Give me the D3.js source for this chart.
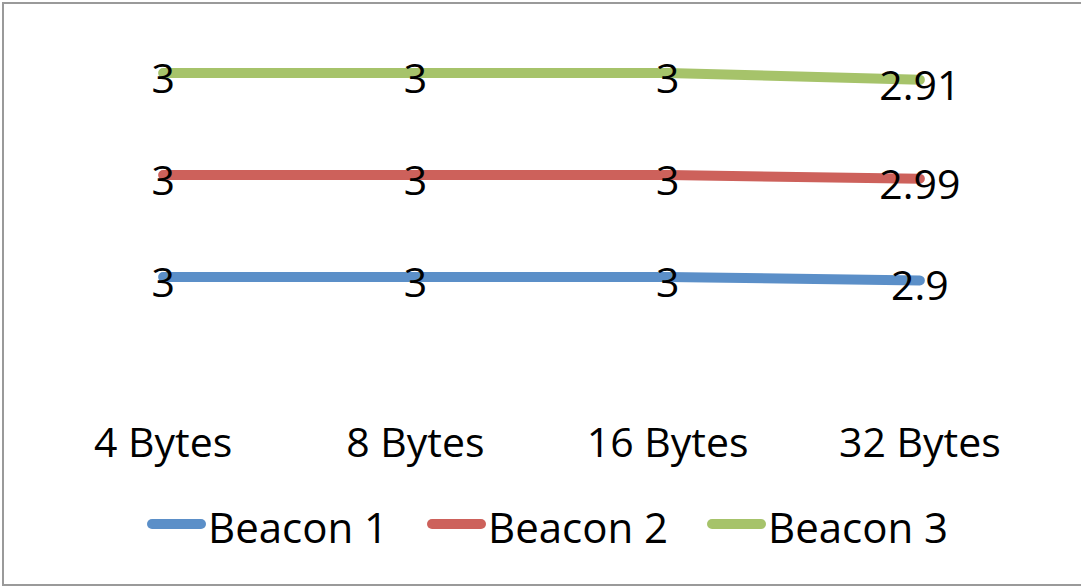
<!DOCTYPE html>
<html><head><meta charset="utf-8">
<script src="https://cdn.jsdelivr.net/npm/d3@7"></script>
<style>body{margin:0;background:#fff}svg{display:block}text{font-family:"Open Sans",sans-serif;fill:#000}</style>
</head><body><svg id="c" width="1081" height="588"></svg>
<script>
const categories = ["4 Bytes", "8 Bytes", "16 Bytes", "32 Bytes"];
const seriesNames = ["Beacon 1", "Beacon 2", "Beacon 3"];
const beacon1 = [3, 3, 3, 2.9];
const beacon2 = [3, 3, 3, 2.99];
const beacon3 = [3, 3, 3, 2.91];
const colors = ["#5b8fc8", "#cd615b", "#a6c36a"];

const svg = d3.select("#c");
svg.append("rect").attr("x", 3).attr("y", 3).attr("width", 1090).attr("height", 582)
  .attr("fill", "#fff").attr("stroke", "#9a9a9a").attr("stroke-width", 2);

const rows = categories.map((c, i) => ({cat: c, "Beacon 1": beacon1[i], "Beacon 2": beacon2[i], "Beacon 3": beacon3[i]}));
const stacked = d3.stack().keys(seriesNames)(rows);

const x = d3.scaleBand().domain(categories).range([37, 1046]);
const cx = c => x(c) + x.bandwidth() / 2;
const y = d3.scaleLinear().domain([0, 10]).range([379, 39]);

const line = d3.line().x(d => cx(d.data.cat)).y(d => y(d[1]));

stacked.forEach((s, si) => {
  svg.append("path").datum(s).attr("d", line).attr("fill", "none")
    .attr("stroke", colors[si]).attr("stroke-width", 10).attr("stroke-linecap", "round").attr("stroke-linejoin", "round");
});
stacked.forEach((s, si) => {
  svg.selectAll(null).data(s).enter().append("text")
    .attr("x", d => cx(d.data.cat)).attr("y", d => y(d[1]) + 20)
    .attr("text-anchor", "middle").attr("font-size", 41)
    .text(d => d.data[s.key]);
});

// category axis (no line)
const ax = svg.append("g").attr("transform", "translate(0,457)")
  .call(d3.axisBottom(x).tickSize(0).tickPadding(0));
ax.select(".domain").remove();
ax.selectAll("text").attr("font-size", 41).attr("dy", 0).attr("y", 0)
  .style("font-family", '"Open Sans",sans-serif').attr("fill", "#000");

// legend
const lg = svg.append("g");
seriesNames.forEach((n, i) => {
  const x0 = 147 + i * 280;
  lg.append("line").attr("x1", x0 + 5).attr("x2", x0 + 54).attr("y1", 524).attr("y2", 524)
    .attr("stroke", colors[i]).attr("stroke-width", 10).attr("stroke-linecap", "round");
  lg.append("text").attr("x", x0 + 61).attr("y", 543).attr("font-size", 42).text(n);
});
</script></body></html>
